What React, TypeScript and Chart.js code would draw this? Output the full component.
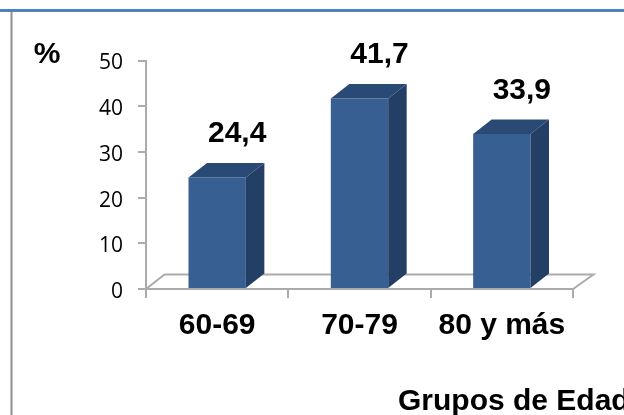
import React, { useEffect, useRef } from "react";
import { Chart, registerables } from "chart.js";

Chart.register(...registerables);

const categories = ["60-69", "70-79", "80 y más"];
const percentages = [24.4, 41.7, 33.9];
const yTicks = [0, 10, 20, 30, 40, 50];
const yAxisTitle = "%";
const xAxisTitle = "Grupos de Edad";

const AXIS_GREY = "#ababab";
const FRONT = "#375f92";
const TOP = "#2a4a76";
const SIDE = "#243f65";
const DEPTH_X = 18.5;
const DEPTH_Y = 14.5;
const BOLD = '"Liberation Sans", Arial, sans-serif';

function polygon(ctx: CanvasRenderingContext2D, pts: number[][], fill: string) {
  ctx.beginPath();
  pts.forEach(([x, y], i) => (i ? ctx.lineTo(x, y) : ctx.moveTo(x, y)));
  ctx.closePath();
  ctx.fillStyle = fill;
  ctx.fill();
}

// Page frame, the floor of the 3D plot, bar depth and the text outside the axes.
const decorations = {
  id: "decorations",
  beforeDraw(chart: any) {
    const { ctx, width, height } = chart;
    ctx.save();
    ctx.fillStyle = "#ffffff";
    ctx.fillRect(0, 0, width, height);
    ctx.fillStyle = "#4f81bd";
    ctx.fillRect(0, 9, width, 3);
    ctx.fillStyle = "#8f8f8f";
    ctx.fillRect(10.5, 12, 2, height - 12);
    ctx.restore();
  },
  beforeDatasetsDraw(chart: any) {
    const { ctx, chartArea: a } = chart;
    ctx.save();
    ctx.strokeStyle = AXIS_GREY;
    ctx.lineWidth = 2;
    ctx.beginPath();
    ctx.moveTo(a.left, a.bottom);
    ctx.lineTo(a.left + DEPTH_X, a.bottom - DEPTH_Y);
    ctx.lineTo(a.right + DEPTH_X + 2, a.bottom - DEPTH_Y);
    ctx.lineTo(a.right, a.bottom);
    ctx.stroke();
    ctx.restore();
  },
  afterDatasetsDraw(chart: any) {
    const { ctx } = chart;
    const bars = chart.getDatasetMeta(0).data;
    ctx.save();
    bars.forEach((bar: any, i: number) => {
      const l = bar.x - bar.width / 2;
      const r = bar.x + bar.width / 2;
      const t = bar.y;
      const b = bar.base;
      polygon(ctx, [[l, t], [l + DEPTH_X, t - DEPTH_Y], [r + DEPTH_X, t - DEPTH_Y], [r, t]], TOP);
      polygon(ctx, [[r, t], [r + DEPTH_X, t - DEPTH_Y], [r + DEPTH_X, b - DEPTH_Y], [r, b]], SIDE);
      ctx.font = `bold 30px ${BOLD}`;
      ctx.fillStyle = "#000000";
      ctx.textAlign = "center";
      ctx.textBaseline = "alphabetic";
      ctx.fillText(String(percentages[i]).replace(".", ","), bar.x + 20, t - 35);
    });
    ctx.font = `bold 30px ${BOLD}`;
    ctx.fillStyle = "#000000";
    ctx.textBaseline = "alphabetic";
    ctx.textAlign = "center";
    ctx.fillText(yAxisTitle, 47, 63);
    ctx.textAlign = "left";
    ctx.fillText(xAxisTitle, 398, 410);
    ctx.restore();
  },
};

export default function App() {
  const ref = useRef<HTMLCanvasElement>(null);

  useEffect(() => {
    document.body.style.margin = "0";
    const chart = new Chart(ref.current!, {
      type: "bar",
      data: {
        labels: categories,
        datasets: [
          {
            data: percentages,
            backgroundColor: FRONT,
            borderWidth: 0,
            barPercentage: 0.403,
            categoryPercentage: 1,
          },
        ],
      },
      options: {
        animation: false,
        responsive: false,
        layout: { padding: { top: 60.5, right: 51, left: 0, bottom: 0 } },
        plugins: { legend: { display: false }, tooltip: { enabled: false } },
        scales: {
          x: {
            afterFit(scale: any) {
              scale.height = 126;
            },
            border: { color: AXIS_GREY, width: 2 },
            grid: { drawOnChartArea: false, color: AXIS_GREY, lineWidth: 2, tickLength: 9 },
            ticks: {
              color: "#000000",
              padding: 10,
              maxRotation: 0,
              font: { family: BOLD, size: 30, weight: "bold" },
            },
          },
          y: {
            min: 0,
            max: 50,
            afterFit(scale: any) {
              scale.width = 146;
            },
            afterBuildTicks(scale: any) {
              scale.ticks = yTicks.map((value) => ({ value }));
            },
            border: { color: AXIS_GREY, width: 2 },
            grid: { drawOnChartArea: false, color: AXIS_GREY, lineWidth: 2, tickLength: 8 },
            ticks: {
              color: "#000000",
              padding: 15,
              // The empty first line sits the number slightly below its tick mark.
              callback: (value: number) => ["", String(value)],
              font: { family: '"Open Sans", sans-serif', size: 21, lineHeight: "6px" },
            },
          },
        },
      },
      plugins: [decorations],
    } as any);
    return () => chart.destroy();
  }, []);

  return <canvas ref={ref} width={624} height={415} style={{ display: "block" }} />;
}
